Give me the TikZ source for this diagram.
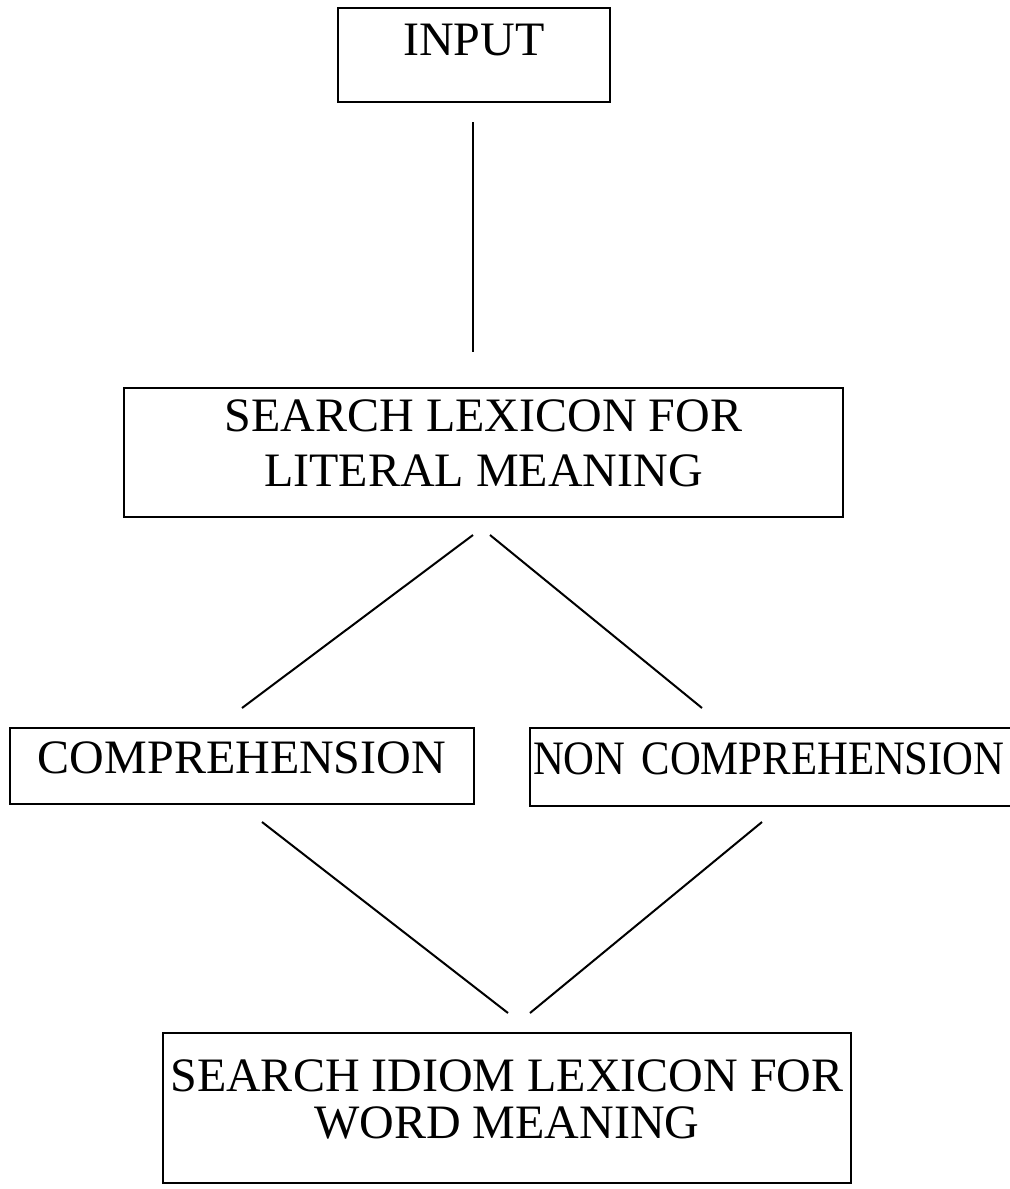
\documentclass[tikz,border=0pt]{standalone}
\usepackage{fontspec}
\setmainfont{Liberation Serif}
\newfontfamily\narrowserif[FakeStretch=0.89]{Liberation Serif}
\usetikzlibrary{positioning,calc}
\tikzset{
	idiom flowchart/.style={
		x=0.5pt,y=-0.5pt,
		font=\fontsize{24}{27.5}\selectfont,
		link/.style={line width=1pt}
	},
	stage/.style={
		rectangle,
		draw,
		line width=1.2pt,
		inner sep=0pt,
		align=center
	},
	squeezed stage/.style={
		stage,
		align=left,
		inner xsep=1.5pt,
		font=\narrowserif\fontsize{24}{27.5}\selectfont
	}
}

\begin{document}
\begin{tikzpicture}[idiom flowchart]
	\useasboundingbox (0,0) rectangle (1009,1189);
	% boxes
	\node[stage,minimum width=136pt,minimum height=47pt,text depth=15pt] (input) at (474,55) {INPUT};
	\node[stage,minimum width=359.5pt,minimum height=64.5pt,text depth=9pt] (literal) at (483.5,452.5) {SEARCH LEXICON FOR\\LITERAL MEANING};
	\node[stage,minimum width=232pt,minimum height=38pt,text depth=8.5pt] (comp) at (242,766) {COMPREHENSION};
	\node[squeezed stage,text width=239.5pt,minimum height=39pt,text depth=8.5pt] (noncomp) at (772.5,767) {NON COMPREHENSION};
	\node[stage,minimum width=344pt,minimum height=75pt,text depth=9pt,font=\fontsize{24}{23.5}\selectfont] (idiom) at (507,1108) {SEARCH IDIOM LEXICON FOR\\WORD MEANING};
	% loose ends of the links
	\coordinate (input out) at (473,122);
	\coordinate (literal in) at (473,352);
	\coordinate (literal out l) at (473,535);
	\coordinate (literal out r) at (490,535);
	\coordinate (comp in) at (242,708);
	\coordinate (noncomp in) at (702,708);
	\coordinate (comp out) at (262,822);
	\coordinate (noncomp out) at (762,822);
	\coordinate (idiom in l) at (508,1013);
	\coordinate (idiom in r) at (530,1013);
	% links
	\draw[link] (input out) -- (literal in);
	\draw[link] (literal out l) -- (comp in);
	\draw[link] (literal out r) -- (noncomp in);
	\draw[link] (comp out) -- (idiom in l);
	\draw[link] (noncomp out) -- (idiom in r);
\end{tikzpicture}
\end{document}
